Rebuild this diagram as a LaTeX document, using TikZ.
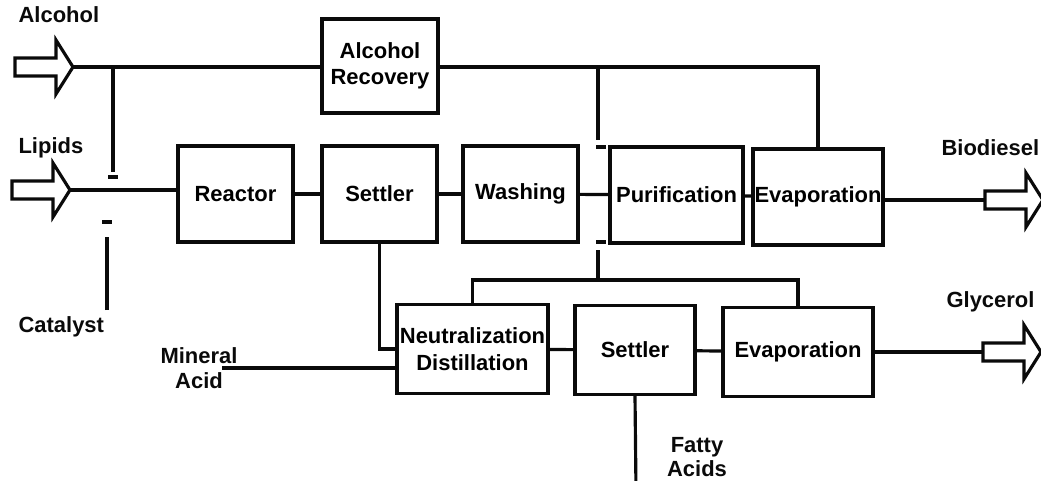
\documentclass[tikz,border=0pt]{standalone}
\usepackage{fontspec}
\setmainfont{Liberation Sans}
\definecolor{inkline}{RGB}{10,10,10}

\begin{document}
\begin{tikzpicture}[x=0.02cm, y=-0.02cm, line width=1.8pt, draw=inkline,
        block/.style = {draw=inkline, inner sep=0pt, minimum height=1.92cm, align=center,
                        font=\bfseries\fontsize{12.5}{15}\selectfont},
        lowblock/.style = {block, minimum height=1.78cm},
        tag/.style = {inner sep=0pt, align=center, text=inkline,
                      font=\bfseries\fontsize{12.5}{14}\selectfont},
        feed/.style = {draw=inkline, line width=1.8pt, line join=miter}]
    \useasboundingbox (0,0) rectangle (1041,480);

    % process blocks
    \node[block, minimum width=2.32cm, minimum height=1.88cm] (recovery) at (380,66) {Alcohol\\Recovery};
    \node[block, minimum width=2.3cm] (reactor) at (235.5,194) {Reactor};
    \node[block, minimum width=2.3cm] (settler) at (379.5,194) {Settler};
    \node[block, minimum width=2.3cm] (washing) at (520.5,194) {Washing};
    \node[block, minimum width=2.66cm] (purif) at (676.5,195) {Purification};
    \node[block, minimum width=2.6cm] (evap) at (818,197) {Evaporation};
    \node[lowblock, minimum width=3.02cm] (neutral) at (472.5,349) {Neutralization\\Distillation};
    \node[lowblock, minimum width=2.4cm] (settlerb) at (635,350) {Settler};
    \node[lowblock, minimum width=3.0cm] (evapb) at (798,352) {Evaporation};

    % feeds and products
    \foreach \n/\x/\y in {alcin/15/67, lipin/12/190, bioout/985/200, glyout/983/352}{
        \coordinate (\n) at (\x,\y);
        \draw[feed] (\n) -- ++(0,-9) -- ++(41,0) -- ++(0,-18) -- ++(17,27) coordinate (\n-tip)
            -- ++(-17,27) -- ++(0,-18) -- ++(-41,0) -- cycle;
    }
    \node[tag, anchor=west] (alcohol) at (17,15) {Alcohol};
    \node[tag, anchor=west] (lipids) at (17,148) {Lipids};
    \node[tag, anchor=west] (catalyst) at (17,327) {Catalyst};
    \node[tag] (mineral) at (199,368) {Mineral\\Acid};
    \node[tag] (fatty) at (697,457) {Fatty\\Acids};
    \node[tag, anchor=west] (biodiesel) at (940,148) {Biodiesel};
    \node[tag, anchor=west] (glycerol) at (945,302) {Glycerol};

    % junction points
    \coordinate (jalc) at (113,67);
    \coordinate (jalcend) at (113,172);
    \coordinate (jcat) at (107,310);
    \coordinate (jcatend) at (107,237);
    \coordinate (jtop) at (598,67);
    \coordinate (jtopend) at (598,140);
    \coordinate (jbus) at (598,280);
    \coordinate (jbusend) at (598,250);
    \coordinate (acidend) at (222,368);
    \coordinate (fattyend) at (636,490);

    % main line
    \draw (lipin-tip) -- (lipin-tip -| reactor.west);
    \draw (reactor) -- (settler);
    \draw (settler) -- (washing);
    \draw (washing) -- (purif);
    \draw (purif) -- (evap);
    \draw (evap.east |- bioout) -- (bioout);

    % alcohol loop
    \draw (alcin-tip) -- (alcin-tip -| recovery.west);
    \draw (recovery.east |- alcin-tip) -| (evap.north);
    \draw (jalc) -- (jalcend);
    \draw (jalcend) ++(-5,5) -- ++(10,0);
    \draw (jcat) -- (jcatend);
    \draw (jcatend) ++(-5,-15) -- ++(10,0);
    \draw (jtop) -- (jtopend);
    \draw (jtopend) ++(-2,7) -- ++(10,0);
    \draw (jbus) -- (jbusend);
    \draw (jbusend) ++(-2,-8) -- ++(10,0);

    % glycerol line
    \draw (settler.south) |- (neutral.west);
    \draw (acidend) -- (acidend -| neutral.west);
    \draw (neutral.north) |- (jbus) -| (evapb.north);
    \draw (neutral) -- (settlerb);
    \draw (settlerb) -- (evapb);
    \draw (settlerb.south) -- (fattyend);
    \draw (evapb.east) -- (glyout);
\end{tikzpicture}
\end{document}
